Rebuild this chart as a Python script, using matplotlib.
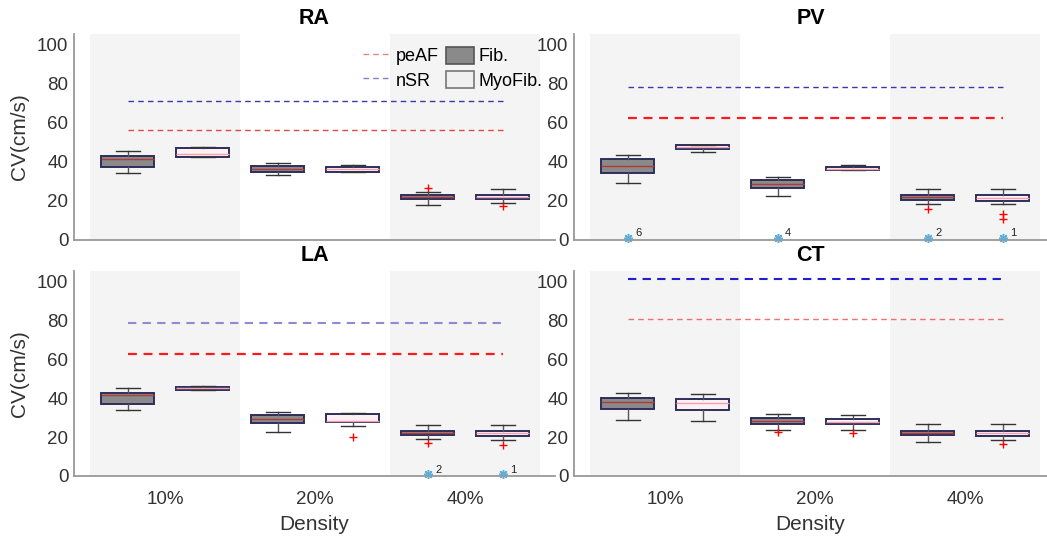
import numpy as np
import matplotlib
matplotlib.use('Agg')
import matplotlib.pyplot as plt
from matplotlib.lines import Line2D
from matplotlib.patches import Patch

plt.rcParams['font.family'] = ['Liberation Sans', 'DejaVu Sans']

densities = ['10%', '20%', '40%']
regions = ['RA', 'PV', 'LA', 'CT']

# five-number summaries per density: (whisker low, q1, median, q3, whisker high)
ra_fib = [(34.2, 37.6, 41.7, 43.2, 45.5), (33.3, 35.0, 36.6, 37.8, 39.6), (18.1, 20.9, 22.2, 23.2, 24.6)]
ra_myo = [(42.4, 42.6, 44.1, 47.3, 47.7), (35.0, 35.0, 36.2, 37.6, 38.6), (18.8, 20.9, 22.0, 23.2, 26.0)]
pv_fib = [(29.4, 34.5, 38.1, 41.4, 43.6), (22.6, 26.5, 28.5, 30.8, 32.1), (18.6, 20.5, 22.1, 23.2, 26.3)]
pv_myo = [(45.0, 46.5, 47.7, 48.5, 48.6), (35.7, 35.7, 36.6, 37.6, 38.3), (18.3, 20.2, 21.5, 22.9, 26.0)]
la_fib = [(33.8, 37.1, 41.5, 42.8, 45.1), (22.4, 27.1, 29.4, 31.4, 32.8), (18.8, 20.9, 22.3, 23.3, 26.3)]
la_myo = [(44.2, 44.2, 45.1, 46.0, 46.3), (25.7, 28.0, 28.5, 31.8, 32.5), (18.5, 20.6, 22.1, 23.2, 26.2)]
ct_fib = [(28.8, 34.7, 38.3, 40.1, 42.6), (23.8, 26.9, 28.3, 29.7, 31.8), (17.3, 20.9, 22.1, 23.3, 26.9)]
ct_myo = [(28.1, 33.8, 37.8, 39.7, 42.0), (23.7, 26.8, 28.0, 29.5, 31.6), (18.7, 20.6, 22.1, 23.2, 26.8)]

# outliers (+ markers)
ra_fib_out = [[], [], [26.5]]
ra_myo_out = [[], [], [17.4]]
pv_fib_out = [[], [], [15.9]]
pv_myo_out = [[], [], [13.5, 10.5]]
la_fib_out = [[], [], [17.1]]
la_myo_out = [[], [20.0], [15.7]]
ct_fib_out = [[], [22.4], []]
ct_myo_out = [[], [22.1], [16.4]]

# counts of failed cases shown as stars at the bottom
pv_fib_stars = [6, 4, 2]
pv_myo_stars = [0, 0, 1]
la_fib_stars = [0, 0, 2]
la_myo_stars = [0, 0, 1]

# reference velocities
nsr_cv = [71.1, 78.3, 78.6, 101.5]
peaf_cv = [56.4, 62.6, 62.8, 80.7]

fib_data = [ra_fib, pv_fib, la_fib, ct_fib]
myo_data = [ra_myo, pv_myo, la_myo, ct_myo]
fib_outs = [ra_fib_out, pv_fib_out, la_fib_out, ct_fib_out]
myo_outs = [ra_myo_out, pv_myo_out, la_myo_out, ct_myo_out]
fib_stars = [None, pv_fib_stars, la_fib_stars, None]
myo_stars = [None, pv_myo_stars, la_myo_stars, None]

# line styles differ a bit between panels in the original
nsr_style = [dict(color='#3a3ab0', lw=1.0), dict(color='#3a3aa8', lw=1.0),
             dict(color='#8c8cd6', lw=1.5), dict(color='#1f1fd0', lw=1.5)]
peaf_style = [dict(color='#e04848', lw=1.0), dict(color='#ff1a1a', lw=1.6),
              dict(color='#ff1a1a', lw=1.6), dict(color='#f07070', lw=1.0)]


def make_stats(summary, outs):
    stats = []
    for (lo, q1, med, q3, hi), fl in zip(summary, outs):
        stats.append(dict(whislo=lo, q1=q1, med=med, q3=q3, whishi=hi, fliers=fl))
    return stats


W, H = 1047, 540
fig = plt.figure(figsize=(10.47, 5.4), dpi=100)

boxes_px = [(74, 34, 555, 240), (574, 34, 1047, 240),
            (74, 271, 555, 476), (574, 271, 1047, 476)]

x = np.arange(1, len(densities) + 1)
for i, name in enumerate(regions):
    l, t, r, b = boxes_px[i]
    ax = fig.add_axes([l / W, 1 - b / H, (r - l) / W, (b - t) / H])

    for g in [1, 3]:
        ax.axvspan(g - 0.5, g + 0.5, color='#f4f4f4', zorder=0, lw=0)

    common = dict(widths=0.35, patch_artist=True, capwidths=0.16,
                  whiskerprops=dict(color='#555555', lw=1.0),
                  capprops=dict(color='#333333', lw=1.0),
                  flierprops=dict(marker='+', markeredgecolor='red', markersize=6, markeredgewidth=1.0))
    ax.bxp(make_stats(fib_data[i], fib_outs[i]), positions=x - 0.25,
           boxprops=dict(facecolor='#8a8a8a', edgecolor='#2e2e5c', lw=1.4),
           medianprops=dict(color='#b03a3a', lw=1.0), **common)
    ax.bxp(make_stats(myo_data[i], myo_outs[i]), positions=x + 0.25,
           boxprops=dict(facecolor='#fcf0f2', edgecolor='#2e2e5c', lw=1.4),
           medianprops=dict(color='#f4a0b0', lw=1.0), **common)

    ax.plot([x[0] - 0.25, x[-1] + 0.25], [peaf_cv[i]] * 2, ls=(0, (4, 3)), **peaf_style[i])
    ax.plot([x[0] - 0.25, x[-1] + 0.25], [nsr_cv[i]] * 2, ls=(0, (4, 3)), **nsr_style[i])

    for stars, off in [(fib_stars[i], -0.25), (myo_stars[i], 0.25)]:
        if stars is None:
            continue
        for g, n in zip(x, stars):
            if n:
                ax.plot(g + off, 1.0, marker=(8, 2, 0), color='#5ab0e0', markersize=6.5,
                        markeredgewidth=1.1, clip_on=False)
                ax.text(g + off + 0.05, 1.8, str(n), fontsize=8, color='#222222')

    ax.set_ylim(0, 105.5)
    ax.set_xlim(0.393, 0.393 + (r - l) / 150)
    ax.set_yticks([0, 20, 40, 60, 80, 100])
    ax.tick_params(length=0, labelsize=13.5, colors='#333333', pad=4)
    for s in ['top', 'right']:
        ax.spines[s].set_visible(False)
    for s in ['left', 'bottom']:
        ax.spines[s].set_color('#999999')
        ax.spines[s].set_linewidth(1.3)
    ax.set_title(name, fontsize=15.5, fontweight='bold', pad=7)

    if i >= 2:
        ax.set_xticks(x)
        ax.set_xticklabels(densities)
        ax.tick_params(axis='x', pad=11)
        ax.set_xlabel('Density', fontsize=15, color='#333333', labelpad=5)
    else:
        ax.set_xticks([])
    if i % 2 == 0:
        ax.set_ylabel('CV(cm/s)', fontsize=15, color='#333333', labelpad=6)

    if i == 0:
        handles = [Line2D([], [], color='#f08080', lw=1.0, ls=(0, (4, 3))),
                   Line2D([], [], color='#8080d0', lw=1.0, ls=(0, (4, 3))),
                   Patch(facecolor='#8a8a8a', edgecolor='#555555', lw=1.2),
                   Patch(facecolor='#f0f0f0', edgecolor='#777777', lw=1.2)]
        ax.legend(handles, ['peAF', 'nSR', 'Fib.', 'MyoFib.'], ncol=2, frameon=False,
                  loc='upper right', bbox_to_anchor=(1.0, 1.0), fontsize=13,
                  handlelength=1.55, handleheight=1.1, handletextpad=0.25,
                  columnspacing=0.4, labelspacing=0.3, borderpad=0.2)

fig.savefig('out.png', dpi=100)
